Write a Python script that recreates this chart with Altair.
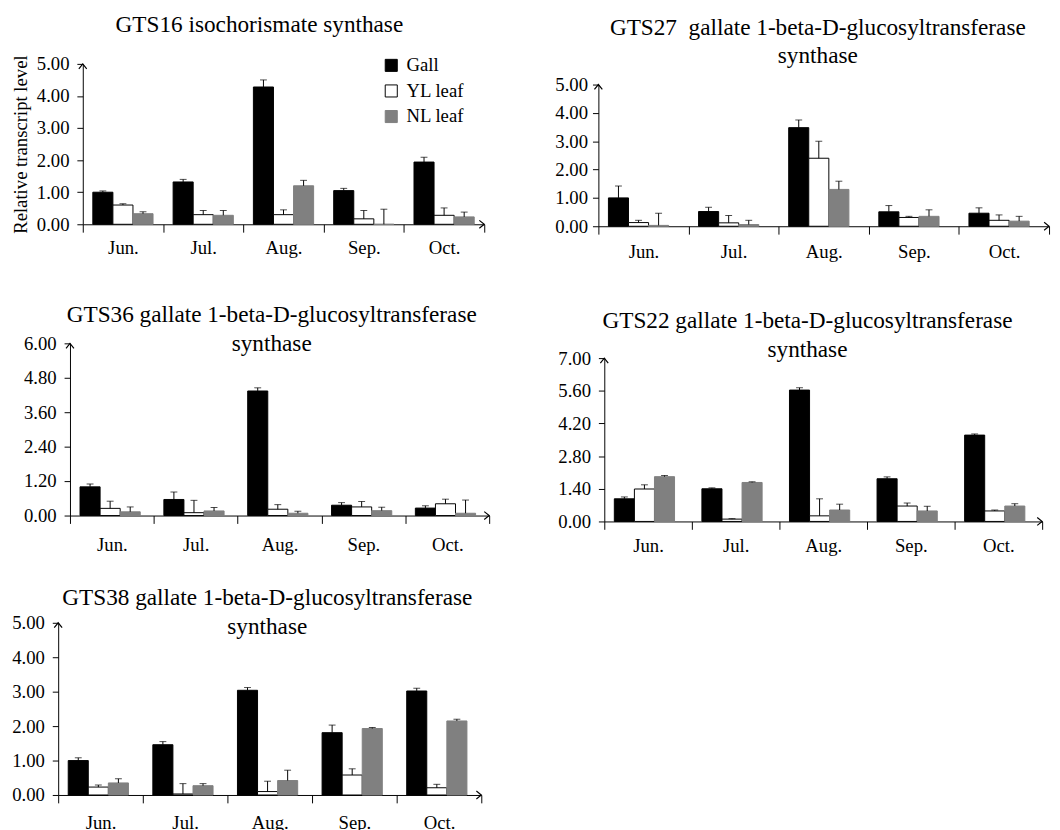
import altair as alt
import pandas as pd

FONT = "Liberation Serif"

months = ["Jun.", "Jul.", "Aug.", "Sep.", "Oct."]
series = ["Gall", "YL leaf", "NL leaf"]

# GTS16 isochorismate synthase
gts16_gall = [1.00, 1.32, 4.28, 1.05, 1.94]
gts16_yl = [0.60, 0.30, 0.30, 0.17, 0.28]
gts16_nl = [0.33, 0.28, 1.20, 0.00, 0.23]
gts16_gall_err = [0.04, 0.08, 0.22, 0.07, 0.15]
gts16_yl_err = [0.04, 0.13, 0.15, 0.26, 0.23]
gts16_nl_err = [0.06, 0.15, 0.17, 0.47, 0.15]
gts16_ticks = [0, 1, 2, 3, 4, 5]

# GTS27
gts27_gall = [1.00, 0.52, 3.48, 0.51, 0.46]
gts27_yl = [0.13, 0.12, 2.40, 0.31, 0.21]
gts27_nl = [0.03, 0.06, 1.30, 0.35, 0.18]
gts27_gall_err = [0.42, 0.15, 0.27, 0.22, 0.19]
gts27_yl_err = [0.08, 0.26, 0.60, 0.04, 0.19]
gts27_nl_err = [0.43, 0.15, 0.29, 0.23, 0.17]
gts27_ticks = [0, 1, 2, 3, 4, 5]

# GTS36
gts36_gall = [1.00, 0.56, 4.34, 0.36, 0.26]
gts36_yl = [0.25, 0.10, 0.22, 0.30, 0.41]
gts36_nl = [0.13, 0.16, 0.08, 0.17, 0.08]
gts36_gall_err = [0.10, 0.26, 0.11, 0.09, 0.08]
gts36_yl_err = [0.25, 0.43, 0.16, 0.19, 0.16]
gts36_nl_err = [0.17, 0.12, 0.07, 0.12, 0.46]
gts36_ticks = [0, 1.2, 2.4, 3.6, 4.8, 6.0]

# GTS22
gts22_gall = [0.97, 1.40, 5.63, 1.83, 3.70]
gts22_yl = [1.39, 0.10, 0.24, 0.66, 0.45]
gts22_nl = [1.92, 1.67, 0.49, 0.45, 0.66]
gts22_gall_err = [0.08, 0.04, 0.10, 0.08, 0.05]
gts22_yl_err = [0.18, 0.02, 0.73, 0.13, 0.04]
gts22_nl_err = [0.05, 0.03, 0.25, 0.20, 0.10]
gts22_ticks = [0, 1.4, 2.8, 4.2, 5.6, 7.0]

# GTS38
gts38_gall = [1.00, 1.46, 3.04, 1.81, 3.02]
gts38_yl = [0.23, 0.03, 0.10, 0.58, 0.21]
gts38_nl = [0.35, 0.27, 0.42, 1.93, 2.15]
gts38_gall_err = [0.08, 0.09, 0.08, 0.22, 0.08]
gts38_yl_err = [0.06, 0.30, 0.30, 0.18, 0.10]
gts38_nl_err = [0.12, 0.06, 0.30, 0.03, 0.05]
gts38_ticks = [0, 1, 2, 3, 4, 5]

FILLS = ["#000000", "#ffffff", "#808080"]
STROKES = ["#000000", "#000000", "#808080"]
UP = "M-0.8,1L0,0L0.8,1"
RIGHT = "M-1,-0.8L0,0L-1,0.8"


def panel(title, vals, errs, ticks, vw, vh, x0, x1, y0, y1, tdx, toff,
          xpad=6, ypad=8, legend=False, ytitle=False):
    """vw, vh: cell size; [x0, x1] horizontal plot range, [y0 (zero), y1 (top)]."""
    rows = []
    for s, v, e in zip(series, vals, errs):
        for m, vv, ee in zip(months, v, e):
            rows.append({"month": m, "series": s, "value": vv, "top": vv + ee})
    df = pd.DataFrame(rows)
    ymax = ticks[-1]

    xenc = alt.X(
        "month:N", sort=months,
        scale=alt.Scale(paddingInner=0, paddingOuter=0, range=[x0, x1]),
        axis=alt.Axis(title=None, labelAngle=0, tickBand="extent", tickSize=8,
                      labelPadding=xpad, labelFont=FONT, labelFontSize=19,
                      labelColor="black", domainColor="black", tickColor="black",
                      grid=False, labelOverlap=False, offset=y0 - vh),
    )
    xplain = alt.X("month:N", sort=months)
    xoff = alt.XOffset("series:N", sort=series,
                       scale=alt.Scale(paddingOuter=0.5, paddingInner=0))
    yscale = alt.Scale(domain=[0, ymax], nice=False, range=[y0, y1])
    axis_kw = dict(values=ticks, tickCount=20, format=".2f", tickSize=6,
                   labelPadding=ypad, labelFont=FONT, labelFontSize=19,
                   labelColor="black", domainColor="black", tickColor="black",
                   grid=False, labelOverlap=False, offset=-x0)
    if ytitle:
        yaxis = alt.Axis(title="Relative transcript level", titleFont=FONT,
                         titleFontSize=19, titleFontWeight="normal",
                         titleColor="black", titlePadding=6, **axis_kw)
    else:
        yaxis = alt.Axis(title=None, **axis_kw)

    if legend:
        leg = alt.Legend(orient="none", legendX=x0 + 304, legendY=y1 - 8, title=None,
                         symbolType="square", symbolSize=150, symbolStrokeWidth=1,
                         labelFont=FONT, labelFontSize=19, labelColor="black",
                         rowPadding=6, labelOffset=6)
    else:
        leg = None

    bars = alt.Chart(df).mark_bar(strokeWidth=1).encode(
        x=xenc, xOffset=xoff,
        y=alt.Y("value:Q", scale=yscale, axis=yaxis),
        fill=alt.Fill("series:N", sort=series,
                      scale=alt.Scale(domain=series, range=FILLS), legend=leg),
        stroke=alt.Stroke("series:N", sort=series,
                          scale=alt.Scale(domain=series, range=STROKES), legend=leg),
    )
    rules = alt.Chart(df).mark_rule(color="black", strokeWidth=1).encode(
        x=xplain, xOffset=xoff, y=alt.Y("value:Q"), y2="top:Q"
    )
    caps = alt.Chart(df).mark_tick(color="black", thickness=1, size=7).encode(
        x=xplain, xOffset=xoff, y=alt.Y("top:Q")
    )
    up = alt.Chart(pd.DataFrame({"month": [months[0]], "value": [ymax]})).mark_point(
        shape=UP, size=100, filled=False, color="black", strokeWidth=1.2, opacity=1
    ).encode(x=alt.X("month:N", sort=months, bandPosition=0), y=alt.Y("value:Q"))
    right = alt.Chart(pd.DataFrame({"month": [months[-1]], "value": [0]})).mark_point(
        shape=RIGHT, size=100, filled=False, color="black", strokeWidth=1.2, opacity=1
    ).encode(x=alt.X("month:N", sort=months, bandPosition=1), y=alt.Y("value:Q"))

    return alt.layer(bars, rules, caps, up, right).properties(
        width=vw, height=vh,
        title=alt.TitleParams(text=title, font=FONT, fontSize=23.6, fontWeight="normal",
                              color="black", anchor="middle", frame="group",
                              baseline="bottom", dx=tdx, offset=toff, lineHeight=29),
    )


# cells: column 1 at x=58, column 2 at x=601; rows at y=61, 341, 621
p1 = panel(["GTS16 isochorismate synthase"],
           [gts16_gall, gts16_yl, gts16_nl],
           [gts16_gall_err, gts16_yl_err, gts16_nl_err],
           gts16_ticks, 438, 181, 25, 433, 163, 0, -14.5, -5,
           xpad=7, legend=True, ytitle=True)
p2 = panel(["GTS27\u00a0 gallate 1-beta-D-glucosyltransferase", "synthase"],
           [gts27_gall, gts27_yl, gts27_nl],
           [gts27_gall_err, gts27_yl_err, gts27_nl_err],
           gts27_ticks, 458, 181, 0, 458, 165, 21, -6, -28, xpad=9, ypad=5)
p3 = panel(["GTS36 gallate 1-beta-D-glucosyltransferase", "synthase"],
           [gts36_gall, gts36_yl, gts36_nl],
           [gts36_gall_err, gts36_yl_err, gts36_nl_err],
           gts36_ticks, 438, 181, 12, 438, 175, 0, -2, -45, xpad=13)
p4 = panel(["GTS22 gallate 1-beta-D-glucosyltransferase", "synthase"],
           [gts22_gall, gts22_yl, gts22_nl],
           [gts22_gall_err, gts22_yl_err, gts22_nl_err],
           gts22_ticks, 458, 181, 6, 451, 181, 15, -16.5, -42, xpad=8)
p5 = panel(["GTS38 gallate 1-beta-D-glucosyltransferase", "synthase"],
           [gts38_gall, gts38_yl, gts38_nl],
           [gts38_gall_err, gts38_yl_err, gts38_nl_err],
           gts38_ticks, 438, 175, 0, 430, 175, 0, -6.5, -49, xpad=11)

chart = alt.concat(p1, p2, p3, p4, p5, columns=2, spacing={"row": 103, "column": 111},
                   bounds="flush").resolve_scale(
    fill="independent", stroke="independent"
).properties(
    padding={"left": 3, "top": -2, "right": 0, "bottom": 5},
    background="white",
).configure_view(stroke=None)

chart.save("out.html", embed_options={"renderer": "svg", "actions": False})
